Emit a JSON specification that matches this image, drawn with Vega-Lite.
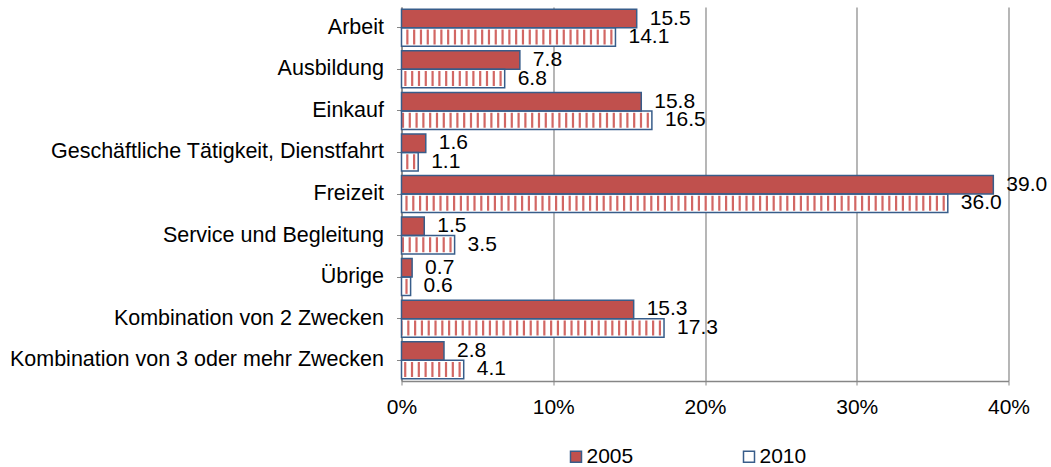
{
  "$schema": "https://vega.github.io/schema/vega-lite/v6.json",
  "width": 607,
  "height": 374,
  "autosize": {"type": "none"},
  "padding": {"left": 401.5, "top": 7, "right": 42.5, "bottom": 86},
  "background": "white",
  "config": {"font": "Liberation Sans", "view": {"stroke": null}},
  "data": {
    "values": [
      {"purpose": "Arbeit", "year": "2005", "value": 15.5},
      {"purpose": "Arbeit", "year": "2010", "value": 14.1},
      {"purpose": "Ausbildung", "year": "2005", "value": 7.8},
      {"purpose": "Ausbildung", "year": "2010", "value": 6.8},
      {"purpose": "Einkauf", "year": "2005", "value": 15.8},
      {"purpose": "Einkauf", "year": "2010", "value": 16.5},
      {"purpose": "Geschäftliche Tätigkeit, Dienstfahrt", "year": "2005", "value": 1.6},
      {"purpose": "Geschäftliche Tätigkeit, Dienstfahrt", "year": "2010", "value": 1.1},
      {"purpose": "Freizeit", "year": "2005", "value": 39.0},
      {"purpose": "Freizeit", "year": "2010", "value": 36.0},
      {"purpose": "Service und Begleitung", "year": "2005", "value": 1.5},
      {"purpose": "Service und Begleitung", "year": "2010", "value": 3.5},
      {"purpose": "Übrige", "year": "2005", "value": 0.7},
      {"purpose": "Übrige", "year": "2010", "value": 0.6},
      {"purpose": "Kombination von 2 Zwecken", "year": "2005", "value": 15.3},
      {"purpose": "Kombination von 2 Zwecken", "year": "2010", "value": 17.3},
      {"purpose": "Kombination von 3 oder mehr Zwecken", "year": "2005", "value": 2.8},
      {"purpose": "Kombination von 3 oder mehr Zwecken", "year": "2010", "value": 4.1}
    ]
  },
  "encoding": {
    "y": {
      "field": "purpose", "type": "nominal", "sort": null,
      "scale": {"paddingInner": 0.11, "paddingOuter": 0.055},
      "axis": {
        "title": null, "domainColor": "#868686", "domainWidth": 1.5, "tickColor": "#868686",
        "tickSize": 5, "labelFontSize": 21.5, "labelColor": "black", "labelPadding": 13,
        "labelLimit": 600, "grid": false
      }
    },
    "yOffset": {"field": "year", "type": "nominal", "sort": ["2005", "2010"], "scale": {"paddingInner": 0}},
    "x": {
      "field": "value", "type": "quantitative",
      "scale": {"domain": [0, 40]},
      "axis": {
        "title": null, "values": [0, 10, 20, 30, 40], "labelExpr": "datum.value + '%'",
        "grid": true, "gridColor": "#868686", "gridWidth": 1.2,
        "domainColor": "#868686", "domainWidth": 1.5, "tickColor": "#868686", "tickSize": 4,
        "labelFontSize": 21, "labelColor": "black", "labelPadding": 11.5, "labelFlush": false
      }
    }
  },
  "layer": [
    {
      "mark": {"type": "bar", "strokeWidth": 0},
      "encoding": {
        "color": {
          "field": "year", "type": "nominal",
          "scale": {"domain": ["2005", "2010"], "range": ["#C0504D", "#FFFFFF"]},
          "legend": {
            "title": null, "orient": "none", "legendX": 164, "legendY": 439,
            "direction": "horizontal", "symbolType": "square", "symbolSize": 121,
            "symbolStrokeColor": "#385D8A", "symbolStrokeWidth": 1.5,
            "labelFontSize": 21, "labelColor": "black", "labelOffset": 0, "columnPadding": 105
          }
        }
      }
    },
    {
      "transform": [{"filter": "datum.year == '2010'"}],
      "mark": {"type": "rule", "strokeWidth": 15, "strokeDash": [2.2, 4.6], "strokeDashOffset": -3, "color": "#D26764", "strokeCap": "butt"},
      "encoding": {
        "x2": {"datum": 0}
      }
    },
    {
      "mark": {"type": "bar", "fill": "transparent", "stroke": "#385D8A", "strokeWidth": 1.5},
      "encoding": {}
    },
    {
      "mark": {"type": "text", "align": "left", "baseline": "middle", "dx": 13, "fontSize": 21, "color": "black"},
      "encoding": {
        "text": {"field": "value", "type": "quantitative", "format": ".1f"}
      }
    }
  ]
}
